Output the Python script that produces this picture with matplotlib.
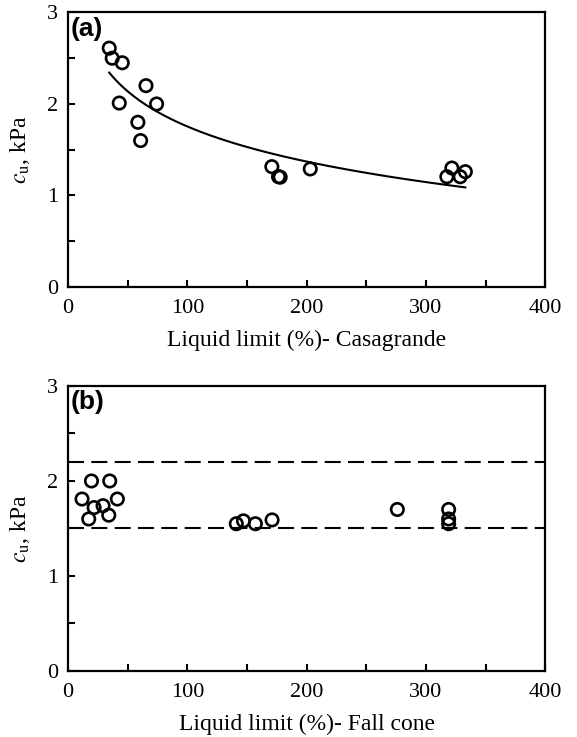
import numpy as np
import matplotlib
matplotlib.use("Agg")
import matplotlib.pyplot as plt
from matplotlib.ticker import MultipleLocator

plt.rcParams['font.family'] = ['Liberation Serif', 'DejaVu Serif']
plt.rcParams['mathtext.fontset'] = 'stix'

# panel (a): Casagrande liquid limit vs cu
ll_casa = [34.5, 37, 45.4, 42.9, 65.3, 74.2, 58.5, 60.8,
           170.8, 176.4, 177.8, 203, 321.7, 317.5, 328.7, 333]
cu_casa = [2.61, 2.5, 2.45, 2.01, 2.2, 2.0, 1.8, 1.6,
           1.315, 1.205, 1.2, 1.29, 1.30, 1.205, 1.205, 1.26]

# panel (b): fall cone liquid limit vs cu
ll_cone = [11.7, 17.3, 19.6, 21.8, 29.3, 34.1, 34.9, 41.3,
           141, 147, 157, 171, 276, 319, 319, 319]
cu_cone = [1.81, 1.60, 2.0, 1.72, 1.74, 1.64, 2.0, 1.81,
           1.55, 1.58, 1.55, 1.59, 1.70, 1.70, 1.60, 1.55]
band = [1.5, 2.2]

fig = plt.figure(figsize=(5.77, 7.37), dpi=100)
ax1 = fig.add_axes([0.118, 0.6106, 0.827, 0.3725])
ax2 = fig.add_axes([0.118, 0.0896, 0.827, 0.3867])

def style(ax, xlabel, tag):
    ax.set_xlim(0, 400)
    ax.set_ylim(0, 3)
    ax.xaxis.set_major_locator(MultipleLocator(100))
    ax.xaxis.set_minor_locator(MultipleLocator(50))
    ax.yaxis.set_major_locator(MultipleLocator(1))
    ax.yaxis.set_minor_locator(MultipleLocator(0.5))
    ax.tick_params(which='both', direction='in', length=5, width=1.5,
                   labelsize=16)
    ax.tick_params(axis='x', pad=9)
    ax.tick_params(axis='y', pad=7)
    for s in ax.spines.values():
        s.set_linewidth(1.6)
    ax.set_xlabel(xlabel, fontsize=17, labelpad=8)
    ax.set_ylabel(r'$c_\mathrm{u}$, kPa', fontsize=17, labelpad=11)
    ax.text(0.005, 0.985, tag, transform=ax.transAxes, ha='left', va='top',
            fontsize=19, fontweight='bold', family=['Liberation Sans'])

x = np.array(ll_casa)
y = np.array(cu_casa)
b, a = np.polyfit(np.log(x), y, 1)
xf = np.linspace(x.min(), x.max(), 200)
ax1.plot(xf, a + b * np.log(xf), color='black', lw=1.5, zorder=2)
ax1.scatter(ll_casa, cu_casa, s=80, facecolors='none', edgecolors='black',
            linewidths=1.9, zorder=3)
style(ax1, 'Liquid limit (%)- Casagrande', '(a)')

for yb in band:
    ax2.axhline(yb, color='black', lw=1.5, dashes=(7.7, 3.5), zorder=1)
ax2.scatter(ll_cone, cu_cone, s=80, facecolors='none', edgecolors='black',
            linewidths=1.9, zorder=3)
style(ax2, 'Liquid limit (%)- Fall cone', '(b)')

fig.savefig('out.png', dpi=100)
